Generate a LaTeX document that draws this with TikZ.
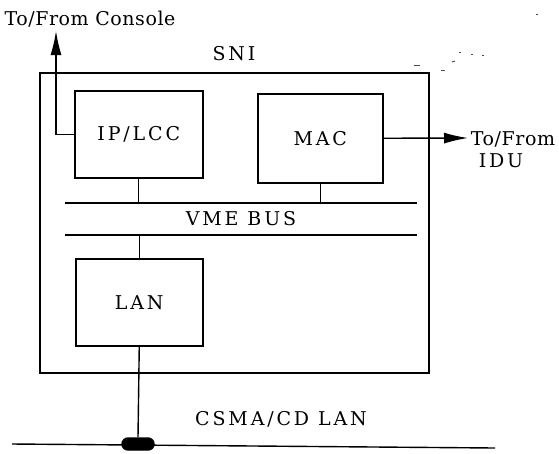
\documentclass[tikz,border=0pt]{standalone}
\usepackage{fontspec}
\setmainfont{DejaVu Serif}
\newfontfamily\capsf{DejaVu Serif}[LetterSpace=15]
\newfontfamily\lowf{DejaVu Serif}[LetterSpace=3]
\usetikzlibrary{arrows.meta}
\begin{document}
\begin{tikzpicture}[x=1pt,y=-1pt,line width=1.4pt,
  blk/.style={draw,line width=1.5pt,anchor=north west,inner sep=0pt,
    font=\capsf\fontsize{19}{21}\selectfont},
  capl/.style={inner sep=0pt,font=\capsf\fontsize{19}{21}\selectfont},
  lowl/.style={inner sep=0pt,font=\lowf\fontsize{19}{21}\selectfont},
  arr/.style={-{Latex[length=24pt,width=11pt]}},
  speck/.style={line width=1pt,black!70}]
\useasboundingbox (0,0) rectangle (559,453);
% outer SNI box
\node[blk,minimum width=389pt,minimum height=300pt] (sni) at (39,72) {};
\node[capl] (snil) at (234,54) {SNI};
% inner blocks
\node[blk,minimum width=128pt,minimum height=87pt] (ip) at (74,90) {IP/LCC};
\node[blk,minimum width=125pt,minimum height=89pt] (mac) at (257,93) {MAC};
\node[blk,minimum width=127pt,minimum height=87pt] (lan) at (75,258) {LAN};
% VME bus
\coordinate (btl) at (65,203);
\coordinate (btr) at (417,203);
\coordinate (bbl) at (65,235);
\coordinate (bbr) at (417,235);
\draw (btl) -- (btr);
\draw (bbl) -- (bbr);
\node[capl] (vme) at (241,219) {VME BUS};
\draw (ip.south) -- (ip.south |- btl);
\draw (mac.south) -- (mac.south |- btl);
\draw (lan.north) -- (lan.north |- bbl);
% console
\coordinate (con) at (56,31);
\draw[arr] (ip.west) -| (con);
\node[lowl] (conl) at (90,19) {To/From Console};
% IDU
\coordinate (idu) at (468,138);
\draw[arr] (mac.east) -- (idu);
\node[lowl] (idul1) at (513,139) {To/From};
\node[capl] (idul2) at (501,161) {IDU};
% CSMA/CD LAN
\coordinate (lnl) at (12,444);
\coordinate (lnr) at (495,448);
\draw (lnl) -- (lnr);
\node[draw,fill=black,rounded corners=6pt,minimum width=32pt,minimum height=12pt,inner sep=0pt] (tap) at (138,444) {};
\draw (lan.south) -- (tap.north);
\node[capl] (csma) at (281,419) {CSMA/CD LAN};
% scan specks
\draw[speck] (414,65) -- (420,65);
\draw[speck] (441,70) -- (445,70);
\draw[speck] (452,62) -- (455,61);
\draw[speck] (459,52) -- (461,52);
\draw[speck] (471,54) -- (473,54);
\draw[speck] (482,55) -- (484,55);
\draw[speck] (536,14) -- (538,14);
\end{tikzpicture}
\end{document}
